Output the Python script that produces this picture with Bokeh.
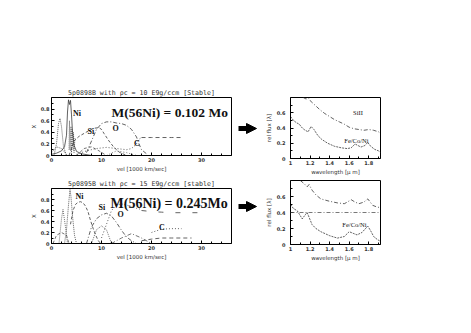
from bokeh.plotting import figure
from bokeh.layouts import row, column
from bokeh.models import Range1d, Label, Arrow, NormalHead, FixedTicker, Span
from bokeh.embed import file_html
from bokeh.resources import INLINE

# ---------------- data ----------------
vel_ticks = [0, 10, 20, 30]
vel_tick_labels = ["0", "10", "20", "30"]
vel_minor = [2, 4, 6, 8, 12, 14, 16, 18, 22, 24, 26, 28, 32, 34]
abund_ticks = [0, 0.2, 0.4, 0.6, 0.8]
abund_tick_labels = ["0", "0.2", "0.4", "0.6", "0.8"]
abund_minor = [0.1, 0.3, 0.5, 0.7, 0.9]
wl_ticks = [1.0, 1.2, 1.4, 1.6, 1.8]
wl_tick_labels = ["1", "1.2", "1.4", "1.6", "1.8"]
wl_minor = [1.1, 1.3, 1.5, 1.7, 1.9]
flux_ticks = [0, 0.2, 0.4, 0.6]
flux_tick_labels = ["0", "0.2", "0.4", "0.6"]
flux_minor = [0.1, 0.3, 0.5, 0.7]

# top-left: rho_c = 10 (abundance vs velocity)
tl_ni_v = [0.0, 1.0, 2.0, 2.6, 3.0, 3.2, 3.4, 3.6, 3.8, 4.0, 4.2, 4.5, 5.0, 6.0, 8.0]
tl_ni_x = [0.02, 0.04, 0.08, 0.15, 0.35, 0.75, 0.96, 0.88, 0.95, 0.70, 0.40, 0.18, 0.07, 0.03, 0.0]
tl_ni2_v = [0.5, 1.0, 1.4, 1.7, 2.0, 2.4, 3.0]
tl_ni2_x = [0.0, 0.2, 0.55, 0.64, 0.5, 0.15, 0.0]
tl_hatch_v = [3.5, 3.6, 3.7, 3.9, 4.0, 4.1, 4.3, 4.4, 4.5, 4.7]
tl_hatch_x = [0.1, 0.6, 0.1, 0.5, 0.05, 0.45, 0.1, 0.4, 0.05, 0.3]
tl_si_v = [3.5, 4.5, 5.5, 6.5, 7.5, 8.5, 9.5, 10.0, 10.5, 11.5, 12.5, 13.5, 15.0]
tl_si_x = [0.0, 0.25, 0.33, 0.38, 0.43, 0.47, 0.48, 0.45, 0.38, 0.25, 0.14, 0.06, 0.0]
tl_o_v = [7.0, 8.0, 9.0, 10.0, 11.0, 12.0, 13.0, 14.0, 15.0, 16.0, 17.0, 17.5, 18.0, 19.0]
tl_o_x = [0.05, 0.25, 0.45, 0.55, 0.58, 0.58, 0.56, 0.55, 0.52, 0.45, 0.32, 0.2, 0.1, 0.03]
tl_c_v = [5.0, 7.0, 9.0, 11.0, 13.0, 15.0, 16.0, 17.0, 17.5, 18.0]
tl_c_x = [0.02, 0.08, 0.12, 0.14, 0.12, 0.1, 0.12, 0.2, 0.28, 0.31]
tl_c2_v = [18.0, 20.0, 22.0, 24.0, 26.0]
tl_c2_x = [0.31, 0.31, 0.31, 0.31, 0.31]
tl_low1_v = [0.0, 1.0, 2.0, 3.0]
tl_low1_x = [0.05, 0.15, 0.12, 0.02]
tl_low2_v = [5.0, 6.5, 8.0, 9.5, 11.0]
tl_low2_x = [0.0, 0.12, 0.15, 0.08, 0.0]
tl_low3_v = [11.0, 13.0, 15.0, 17.0]
tl_low3_x = [0.0, 0.08, 0.05, 0.0]

# bottom-left: rho_c = 15
bl_ni_v = [2.6, 3.0, 3.4, 3.7, 3.9, 4.2, 4.6, 5.0]
bl_ni_x = [0.0, 0.25, 0.7, 0.98, 0.85, 0.5, 0.15, 0.0]
bl_ni2_v = [3.8, 4.3, 4.8, 5.3, 5.8, 6.3, 6.8, 7.3, 7.8, 8.3, 8.8, 9.3, 9.8]
bl_ni2_x = [0.35, 0.6, 0.71, 0.75, 0.76, 0.74, 0.68, 0.58, 0.42, 0.28, 0.16, 0.06, 0.0]
bl_sp_v = [1.5, 2.0, 2.3, 2.8, 3.2]
bl_sp_x = [0.0, 0.45, 0.62, 0.3, 0.0]
bl_si_v = [7.0, 8.0, 9.0, 10.0, 11.0, 12.0, 13.0, 14.0, 15.0, 16.0, 17.0]
bl_si_x = [0.0, 0.3, 0.45, 0.52, 0.55, 0.5, 0.38, 0.24, 0.12, 0.05, 0.0]
bl_o_v = [10.0, 11.0, 12.0, 13.0, 14.0, 15.0, 16.0, 17.0, 18.0]
bl_o_x = [0.1, 0.35, 0.6, 0.7, 0.72, 0.7, 0.67, 0.64, 0.62]
bl_o2_v = [18.0, 20.0, 22.0, 24.0, 26.0, 28.0, 30.0]
bl_o2_x = [0.6, 0.58, 0.57, 0.56, 0.56, 0.56, 0.56]
bl_c_v = [20.0, 22.0, 24.0, 26.0]
bl_c_x = [0.2, 0.26, 0.27, 0.27]
bl_c2_v = [18.0, 20.0, 22.0, 24.0, 26.0, 28.0]
bl_c2_x = [0.05, 0.08, 0.1, 0.1, 0.1, 0.1]
bl_low1_v = [0.3, 1.0, 2.0, 3.0, 3.5]
bl_low1_x = [0.0, 0.15, 0.2, 0.15, 0.0]
bl_low2_v = [8.0, 9.0, 10.0, 11.0, 12.0]
bl_low2_x = [0.0, 0.25, 0.32, 0.25, 0.0]
bl_low3_v = [12.0, 14.0, 16.0, 18.0, 20.0]
bl_low3_x = [0.0, 0.1, 0.18, 0.1, 0.0]

# top-right: spectrum, rho_c = 10
tr_up_w = [1.13, 1.16, 1.18, 1.2, 1.25, 1.3, 1.35, 1.4, 1.45, 1.5, 1.55, 1.6, 1.65, 1.7, 1.75, 1.8, 1.85, 1.9, 1.92]
tr_up_f = [0.80, 0.78, 0.80, 0.76, 0.70, 0.64, 0.59, 0.55, 0.51, 0.48, 0.45, 0.41, 0.39, 0.38, 0.37, 0.38, 0.37, 0.35, 0.33]
tr_lo_w = [1.0, 1.03, 1.06, 1.09, 1.12, 1.15, 1.18, 1.21, 1.24, 1.28, 1.32, 1.38, 1.45, 1.52, 1.58, 1.62, 1.66, 1.69, 1.72, 1.76, 1.79, 1.82, 1.86, 1.9, 1.92]
tr_lo_f = [0.55, 0.50, 0.47, 0.45, 0.40, 0.37, 0.35, 0.42, 0.38, 0.30, 0.25, 0.20, 0.16, 0.14, 0.13, 0.14, 0.19, 0.17, 0.15, 0.17, 0.21, 0.16, 0.12, 0.10, 0.08]

# bottom-right: spectrum, rho_c = 15
br_up_w = [1.1, 1.14, 1.17, 1.19, 1.22, 1.26, 1.31, 1.4, 1.48, 1.55, 1.58, 1.62, 1.66, 1.7, 1.75, 1.79, 1.84, 1.88, 1.92]
br_up_f = [0.80, 0.76, 0.72, 0.75, 0.68, 0.62, 0.57, 0.54, 0.52, 0.51, 0.53, 0.56, 0.53, 0.51, 0.53, 0.57, 0.49, 0.47, 0.46]
br_lo_w = [1.0, 1.03, 1.07, 1.1, 1.12, 1.15, 1.17, 1.19, 1.22, 1.26, 1.31, 1.4, 1.48, 1.55, 1.6, 1.64, 1.68, 1.73, 1.79, 1.82, 1.85, 1.89, 1.92]
br_lo_f = [0.50, 0.45, 0.42, 0.36, 0.32, 0.37, 0.40, 0.34, 0.25, 0.20, 0.16, 0.11, 0.08, 0.10, 0.16, 0.14, 0.12, 0.15, 0.23, 0.17, 0.10, 0.06, 0.04]
br_ref_level = 0.4

# ---------------- helpers ----------------
LINE = "#3a3a3a"
LW = 0.8
TICKFONT = "DejaVu Sans"


def style_axes(p, xt, xl, xminor, yt, yl, yminor, xlabel, ylabel, ylab_standoff=1, ytick_standoff=2):
    p.xaxis.ticker = FixedTicker(ticks=xt, minor_ticks=xminor)
    p.yaxis.ticker = FixedTicker(ticks=yt, minor_ticks=yminor)
    p.xaxis.major_label_overrides = dict(zip(xt, xl))
    p.yaxis.major_label_overrides = dict(zip(yt, yl))
    p.xaxis.axis_label = xlabel
    p.yaxis.axis_label = ylabel
    for ax in p.axis:
        ax.major_tick_in = 3
        ax.major_tick_out = 0
        ax.minor_tick_in = 2
        ax.minor_tick_out = 0
        ax.axis_line_color = "black"
        ax.major_tick_line_color = "black"
        ax.minor_tick_line_color = "black"
        ax.major_label_text_font = TICKFONT
        ax.major_label_text_font_size = "5px"
        ax.major_label_text_font_style = "bold"
        ax.major_label_text_color = "#333333"
        ax.axis_label_text_font = TICKFONT
        ax.axis_label_text_font_size = "5.5px"
        ax.axis_label_text_font_style = "normal"
        ax.axis_label_text_color = "#333333"
    p.xaxis.major_label_standoff = 2
    p.xaxis.axis_label_standoff = 1
    p.yaxis.major_label_standoff = ytick_standoff
    p.yaxis.axis_label_standoff = ylab_standoff
    p.grid.visible = False
    p.outline_line_color = "black"
    p.outline_line_width = 1


def base(width, height, xr, yr, bl, br, bt, bb):
    return figure(width=width, height=height, x_range=xr, y_range=yr,
                  output_backend="svg", toolbar_location=None,
                  min_border_left=bl, min_border_right=br,
                  min_border_top=bt, min_border_bottom=bb,
                  background_fill_color="white", border_fill_color="white")


def add_title(p, text):
    p.title.text = text
    p.title.text_font = "DejaVu Sans Mono"
    p.title.text_font_size = "6.6px"
    p.title.text_font_style = "normal"
    p.title.text_color = "#333333"
    p.title.align = "center"
    p.title.standoff = 2


def serif_label(p, x, y, text, size, bold=True, align="left"):
    p.add_layout(Label(x=x, y=y, text=text, text_font="Liberation Serif",
                       text_font_size=size, text_font_style="bold" if bold else "normal",
                       text_align=align, text_baseline="middle", text_color="#111111"))


# ---------------- top-left ----------------
tl = base(236, 174, Range1d(0, 36), Range1d(0, 1), 51, 5, 97, 17)
add_title(tl, "5p0898B with \u03c1c = 10 E9g/ccm [Stable]")
tl.line(tl_ni_v, tl_ni_x, line_color=LINE, line_width=LW)
tl.line(tl_ni2_v, tl_ni2_x, line_color=LINE, line_width=LW, line_dash="1 1")
tl.line(tl_hatch_v, tl_hatch_x, line_color=LINE, line_width=0.7, line_dash="1 1")
tl.line(tl_si_v, tl_si_x, line_color=LINE, line_width=LW, line_dash="3 2")
tl.line(tl_o_v, tl_o_x, line_color=LINE, line_width=LW, line_dash="4 2 1 2")
tl.line(tl_c_v, tl_c_x, line_color=LINE, line_width=LW, line_dash="1 2")
tl.line(tl_c2_v, tl_c2_x, line_color=LINE, line_width=LW, line_dash="4 3")
tl.line(tl_low1_v, tl_low1_x, line_color=LINE, line_width=0.7, line_dash="1 1")
tl.line(tl_low2_v, tl_low2_x, line_color=LINE, line_width=0.7, line_dash="3 2")
tl.line(tl_low3_v, tl_low3_x, line_color=LINE, line_width=0.7, line_dash="1 2")
style_axes(tl, vel_ticks, vel_tick_labels, vel_minor, abund_ticks, abund_tick_labels,
           abund_minor, "vel [1000 km/sec]", "X")
serif_label(tl, 4.3, 0.73, "Ni", "8px")
serif_label(tl, 7.2, 0.42, "Si", "8px")
serif_label(tl, 12.2, 0.47, "O", "8px")
serif_label(tl, 16.5, 0.2, "C", "8px")
serif_label(tl, 12.0, 0.75, "M(56Ni) = 0.102 Mo", "13.5px")

# ---------------- bottom-left ----------------
bl = base(236, 89, Range1d(0, 36), Range1d(0, 1), 51, 5, 14, 20)
add_title(bl, "5p0895B with \u03c1c = 15 E9g/ccm [stable]")
bl.line(bl_ni_v, bl_ni_x, line_color=LINE, line_width=LW, line_dash="1 1")
bl.line(bl_ni2_v, bl_ni2_x, line_color=LINE, line_width=LW, line_dash="3 2")
bl.line(bl_sp_v, bl_sp_x, line_color=LINE, line_width=0.7, line_dash="1 1")
bl.line(bl_si_v, bl_si_x, line_color=LINE, line_width=LW, line_dash="4 2 1 2")
bl.line(bl_o_v, bl_o_x, line_color=LINE, line_width=LW, line_dash="1 2")
bl.line(bl_o2_v, bl_o2_x, line_color=LINE, line_width=LW, line_dash="5 12")
bl.line(bl_c_v, bl_c_x, line_color=LINE, line_width=LW, line_dash="1 2")
bl.line(bl_c2_v, bl_c2_x, line_color=LINE, line_width=LW, line_dash="4 3")
bl.line(bl_low1_v, bl_low1_x, line_color=LINE, line_width=0.7, line_dash="3 2")
bl.line(bl_low2_v, bl_low2_x, line_color=LINE, line_width=0.7, line_dash="1 1")
bl.line(bl_low3_v, bl_low3_x, line_color=LINE, line_width=0.7, line_dash="4 2 1 2")
style_axes(bl, vel_ticks, vel_tick_labels, vel_minor, abund_ticks, abund_tick_labels,
           abund_minor, "vel [1000 km/sec]", "X")
serif_label(bl, 4.8, 0.86, "Ni", "8px")
serif_label(bl, 9.4, 0.65, "Si", "8px")
serif_label(bl, 13.2, 0.53, "O", "8px")
serif_label(bl, 21.5, 0.3, "C", "8px")
serif_label(bl, 11.8, 0.72, "M(56Ni) = 0.245Mo", "14px")

# ---------------- arrows ----------------
ar = figure(width=26, height=263, x_range=Range1d(0, 26), y_range=Range1d(263, 0),
            output_backend="svg", toolbar_location=None, min_border=0,
            x_axis_type=None, y_axis_type=None, outline_line_color=None,
            background_fill_color="white", border_fill_color="white")
ar.grid.visible = False
for yy in (128, 206):
    ar.add_layout(Arrow(x_start=2, y_start=yy, x_end=20, y_end=yy, line_width=5,
                        line_color="black",
                        end=NormalHead(size=10, fill_color="black", line_color="black",
                                       line_width=1)))

# ---------------- top-right ----------------
tr = base(128, 177, Range1d(1.0, 1.92), Range1d(0, 0.8), 28, 10, 97, 15)
tr.line(tr_up_w, tr_up_f, line_color=LINE, line_width=LW, line_dash="4 2 1 2")
tr.line(tr_lo_w, tr_lo_f, line_color=LINE, line_width=LW, line_dash="2 1")
style_axes(tr, wl_ticks, wl_tick_labels, wl_minor, flux_ticks, flux_tick_labels,
           flux_minor, "wavelength [\u03bc m]", "rel flux [\u03bb]", ylab_standoff=2, ytick_standoff=5)
serif_label(tr, 1.64, 0.6, "SiII", "6.5px", bold=False)
serif_label(tr, 1.55, 0.24, "Fe/Co/Ni", "6.5px", bold=False)

# ---------------- bottom-right ----------------
br = base(128, 87, Range1d(1.0, 1.92), Range1d(0, 0.8), 28, 10, 3, 20)
br.line(br_up_w, br_up_f, line_color=LINE, line_width=LW, line_dash="4 2 1 2")
br.line(br_lo_w, br_lo_f, line_color=LINE, line_width=LW, line_dash="2 1")
br.add_layout(Span(location=br_ref_level, dimension="width", line_color="#555555",
                   line_width=LW, line_dash="4 2 1 2"))
style_axes(br, wl_ticks, wl_tick_labels, wl_minor, flux_ticks, flux_tick_labels,
           flux_minor, "wavelength [\u03bc m]", "rel flux [\u03bb]", ylab_standoff=2, ytick_standoff=5)
serif_label(br, 1.53, 0.25, "Fe/Co/Ni", "6.5px", bold=False)

layout = row(column(tl, bl), column(ar), column(tr, br))

open("out.html", "w").write(file_html(layout, INLINE))
